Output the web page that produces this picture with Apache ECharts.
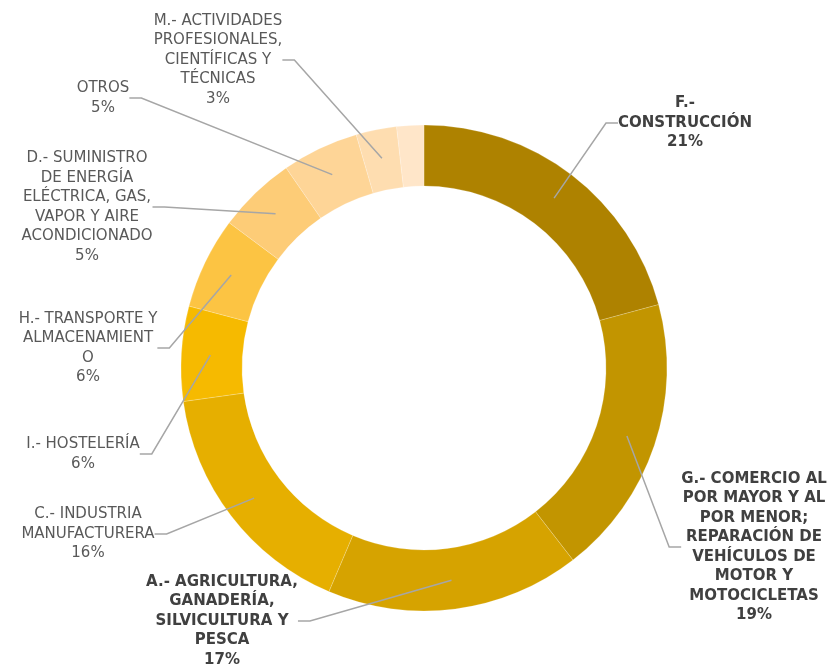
<!DOCTYPE html>
<html>
<head>
    <meta charset="UTF-8">
    <title>Distribución por sector</title>
</head>
<body style="margin: 0;background: #fff;">
<div id="chart" style="width: 830px;height: 666px;"></div>

<script type="text/javascript" src="https://cdn.jsdelivr.net/npm/echarts@6/dist/echarts.min.js"></script>
<script>
    // sectores, en orden horario desde arriba
    var sectors = [
        'F.-\nCONSTRUCCIÓN',
        'G.- COMERCIO AL\nPOR MAYOR Y AL\nPOR MENOR;\nREPARACIÓN DE\nVEHÍCULOS DE\nMOTOR Y\nMOTOCICLETAS',
        'A.- AGRICULTURA,\nGANADERÍA,\nSILVICULTURA Y\nPESCA',
        'C.- INDUSTRIA\nMANUFACTURERA',
        'I.- HOSTELERÍA',
        'H.- TRANSPORTE Y\nALMACENAMIENT\nO',
        'D.- SUMINISTRO\nDE ENERGÍA\nELÉCTRICA, GAS,\nVAPOR Y AIRE\nACONDICIONADO',
        'OTROS',
        'M.- ACTIVIDADES\nPROFESIONALES,\nCIENTÍFICAS Y\nTÉCNICAS',
        ''
    ];
    var shares = [20.8, 18.7, 16.9, 16.4, 6.3, 6.1, 5.2, 5.1, 2.7, 1.8];

    var colors = ['#AE8200', '#C29500', '#D6A300', '#E6AF00', '#F6BA00',
        '#FCC443', '#FDCC77', '#FED597', '#FEDDB0', '#FFE6C9'];
    var boldIdx = [0, 1, 2];
    // centro de cada etiqueta (px)
    var labelPos = [[685, 123], [754, 547], [222, 621], [88, 534], [83, 454],
        [88, 348], [87, 207], [103, 98], [218, 60]];

    var total = shares.reduce(function (a, b) { return a + b; }, 0);

    var ringData = shares.map(function (v, i) {
        return {value: v, name: sectors[i] || 'resto', itemStyle: {color: colors[i]}};
    });

    // serie auxiliar: un sector minúsculo a mitad de cada porción lleva la etiqueta
    var eps = 0.04;
    var labelData = [];
    var slotOf = {};
    var hidden = {itemStyle: {color: 'rgba(0,0,0,0)'}, label: {show: false}, labelLine: {show: false}};
    shares.forEach(function (v, i) {
        if (!sectors[i]) {
            labelData.push(Object.assign({value: v}, hidden));
            return;
        }
        labelData.push(Object.assign({value: v / 2 - eps / 2}, hidden));
        slotOf[labelData.length] = i;
        var bold = boldIdx.indexOf(i) >= 0;
        labelData.push({
            value: eps,
            name: sectors[i],
            itemStyle: {color: 'rgba(0,0,0,0)'},
            label: {
                show: true,
                color: bold ? '#404040' : '#595959',
                fontWeight: bold ? 'bold' : 'normal'
            }
        });
        labelData.push(Object.assign({value: v / 2 - eps / 2}, hidden));
    });

    var chart = echarts.init(document.getElementById('chart'));
    chart.setOption({
        backgroundColor: '#fff',
        animation: false,
        series: [
            {
                type: 'pie',
                silent: true,
                center: [424, 368],
                radius: [182, 243],
                startAngle: 90,
                label: {show: false},
                labelLine: {show: false},
                itemStyle: {borderColor: 'rgba(255,255,255,0.5)', borderWidth: 0.4},
                data: ringData
            },
            {
                type: 'pie',
                silent: true,
                z: 3,
                center: [424, 368],
                radius: [211, 214],
                startAngle: 90,
                avoidLabelOverlap: false,
                label: {
                    position: 'outside',
                    fontFamily: 'DejaVu Sans',
                    fontSize: 15,
                    lineHeight: 19.5,
                    align: 'center',
                    formatter: function (p) {
                        var i = slotOf[p.dataIndex];
                        return sectors[i] + '\n' + Math.round(shares[i] / total * 100) + '%';
                    }
                },
                labelLine: {
                    show: true,
                    length: 10,
                    length2: 12,
                    lineStyle: {color: '#A6A6A6', width: 1.5}
                },
                labelLayout: function (p) {
                    var i = slotOf[p.dataIndex];
                    if (i == null) return {};
                    return {
                        x: labelPos[i][0],
                        y: labelPos[i][1],
                        align: 'center',
                        verticalAlign: 'middle'
                    };
                },
                data: labelData
            }
        ]
    });
</script>
</body>
</html>
